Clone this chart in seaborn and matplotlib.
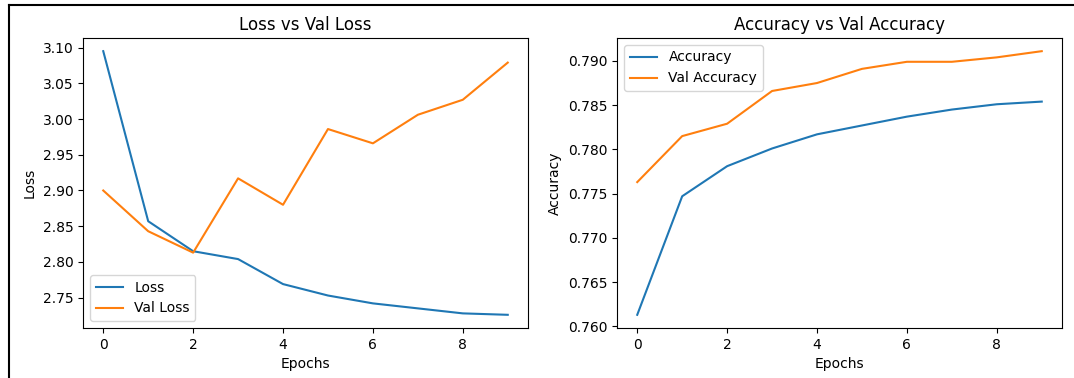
import pandas as pd
import matplotlib
matplotlib.use("Agg")
import matplotlib.pyplot as plt
import seaborn as sns
from matplotlib.lines import Line2D

# training history
epochs = [0, 1, 2, 3, 4, 5, 6, 7, 8, 9]
loss = [3.095, 2.857, 2.815, 2.804, 2.769, 2.753, 2.742, 2.735, 2.728, 2.726]
val_loss = [2.900, 2.843, 2.813, 2.917, 2.880, 2.986, 2.966, 3.006, 3.027, 3.079]
accuracy = [0.7613, 0.7747, 0.7781, 0.7801, 0.7817, 0.7827, 0.7837, 0.7845, 0.7851, 0.7854]
val_accuracy = [0.7763, 0.7815, 0.7829, 0.7866, 0.7875, 0.7891, 0.7899, 0.7899, 0.7904, 0.7911]

df = pd.DataFrame({
    "epoch": epochs,
    "loss": loss,
    "val_loss": val_loss,
    "accuracy": accuracy,
    "val_accuracy": val_accuracy,
})

blue, orange = sns.color_palette("tab10")[:2]

fig, (ax1, ax2) = plt.subplots(1, 2, figsize=(10.74, 3.78), dpi=100)
bottom, top = 0.1323, 0.8995
ax1.set_position([0.0773, bottom, 0.4916 - 0.0773, top - bottom])
ax2.set_position([0.5745, bottom, 0.9888 - 0.5745, top - bottom])

# Loss vs Val Loss
sns.lineplot(data=df, x="epoch", y="loss", ax=ax1, color=blue, label="Loss")
sns.lineplot(data=df, x="epoch", y="val_loss", ax=ax1, color=orange, label="Val Loss")
ax1.set_title("Loss vs Val Loss", fontsize=12)
ax1.set_xlabel("Epochs", fontsize=10)
ax1.set_ylabel("Loss", fontsize=10)
ax1.legend(loc="lower left", fontsize=10)

# Accuracy vs Val Accuracy
sns.lineplot(data=df, x="epoch", y="accuracy", ax=ax2, color=blue, label="Accuracy")
sns.lineplot(data=df, x="epoch", y="val_accuracy", ax=ax2, color=orange, label="Val Accuracy")
ax2.set_title("Accuracy vs Val Accuracy", fontsize=12)
ax2.set_xlabel("Epochs", fontsize=10)
ax2.set_ylabel("Accuracy", fontsize=10)
ax2.legend(loc="upper left", fontsize=10)

for ax in (ax1, ax2):
    ax.set_xticks([0, 2, 4, 6, 8])
    ax.tick_params(labelsize=10)

# screenshot frame along the top and left edges
fig.add_artist(Line2D([0.008, 1.0], [0.987, 0.987], color="black", lw=1.5, transform=fig.transFigure))
fig.add_artist(Line2D([0.008, 0.008], [0.0, 0.987], color="black", lw=1.5, transform=fig.transFigure))

fig.savefig("out.png", dpi=100)
plt.close(fig)
